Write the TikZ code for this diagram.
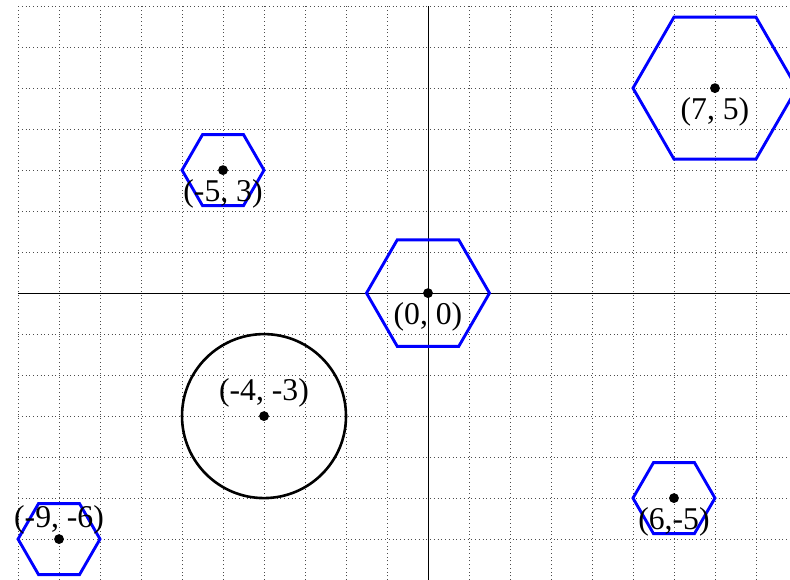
\documentclass[tikz,border=0pt]{standalone}
\usepackage{fontspec}
\setmainfont{Liberation Serif}
\usepackage{tikz}
\usetikzlibrary{positioning,calc}

\newcommand{\hexat}[2]{%
  \draw[hexline] ($(#1)+(0:#2)$) -- ++(120:#2) -- ++(180:#2) -- ++(240:#2) -- ++(300:#2) -- ++(0:#2) -- cycle;}

\begin{document}
\begin{tikzpicture}[
  gridline/.style={black!70, dotted, line width=0.6pt},
  axis/.style={black, line width=0.6pt},
  hexline/.style={blue, line width=2pt},
  ring/.style={black, line width=1.8pt},
  dot/.style={circle, fill, inner sep=0pt, minimum size=0.24cm},
  lbl/.style={font=\fontsize{22}{26}\selectfont, inner sep=2pt},
]
\useasboundingbox (-10.44,-6.98) rectangle (8.83,7.15);
\clip (-10.44,-6.98) rectangle (8.83,7.15);

% grid and axes
\draw[gridline] (-10,-7) grid (10,7);
\draw[axis] (-10,0) -- (10,0);
\draw[axis] (0,-7) -- (0,7);

% points
\node[dot] (p00) at (0,0) {};
\node[dot] (p75) at (7,5) {};
\node[dot] (pm53) at (-5,3) {};
\node[dot] (pm4m3) at (-4,-3) {};
\node[dot] (p6m5) at (6,-5) {};
\node[dot] (pm9m6) at (-9,-6) {};

% shapes
\hexat{p00}{1.5}
\hexat{p75}{2}
\hexat{pm53}{1}
\hexat{p6m5}{1}
\hexat{pm9m6}{1}
\draw[ring] (pm4m3) circle (2);

% labels
\node[lbl, below=0.5pt of p00] (l00) {(0, 0)};
\node[lbl, below=0.5pt of p75] (l75) {(7, 5)};
\node[lbl, below=0.5pt of pm53] (lm53) {(-5, 3)};
\node[lbl, below=0.5pt of p6m5] (l6m5) {(6,-5)};
\node[lbl, above=0.5pt of pm4m3] (lm4m3) {(-4, -3)};
\node[lbl, above=-2.5pt of pm9m6] (lm9m6) {(-9, -6)};
\end{tikzpicture}
\end{document}
